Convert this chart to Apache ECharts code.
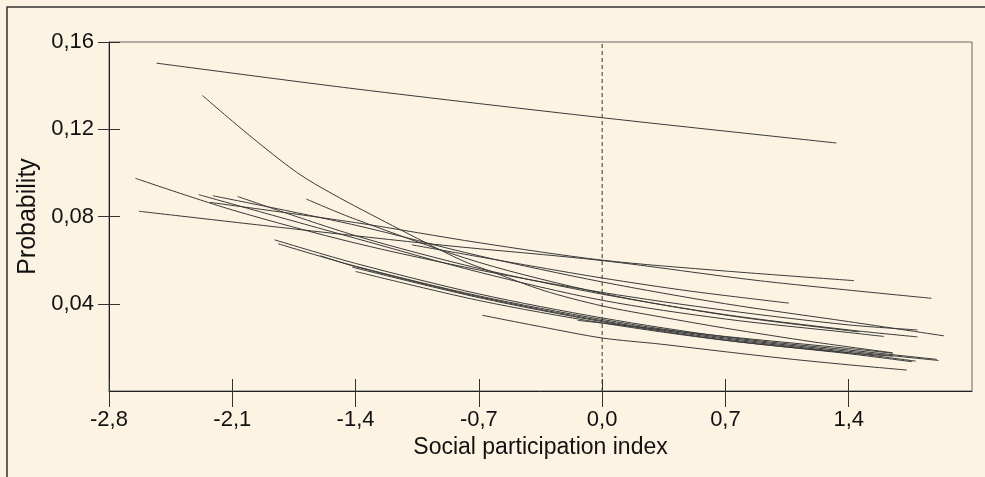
<!DOCTYPE html>
<html><head><meta charset="utf-8">
<script src="https://cdn.jsdelivr.net/npm/echarts@6/dist/echarts.min.js"></script>
<style>html,body{margin:0;padding:0;background:#fcf3e3}#c{width:985px;height:477px}</style>
</head><body><div id="c"></div>
<script>
// axis ticks
const xTicks = [-2.8, -2.1, -1.4, -0.7, 0, 0.7, 1.4];
const yTicks = [0.04, 0.08, 0.12, 0.16];
const xTitle = 'Social participation index';
const yTitle = 'Probability';
const refLine = [[0, 0], [0, 0.16]];

// curves: [social participation index, probability]
const curveTop   = [[-2.53,0.1503],[-1.4,0.1385],[0,0.1253],[1.33,0.1137]];
const curveSteep = [[-2.27,0.1355],[-2.0,0.117],[-1.73,0.100],[-1.53,0.0903],[-1.19,0.0758],[-0.8,0.060],[-0.62,0.0545],[-0.33,0.046],[0,0.0390],[0.33,0.0340],[0.7,0.0288],[1.2,0.0225],[1.65,0.0175]];
const curveB     = [[-2.63,0.0824],[-1.75,0.0743],[-0.9,0.0668],[0,0.0598],[0.9,0.0505],[1.87,0.0425]];
const curveS4    = [[-2.23,0.0865],[-1.4,0.0772],[-0.7,0.0680],[0,0.0600],[0.7,0.0550],[1.43,0.0506]];
const curveS11   = [[-1.08,0.0670],[-0.5,0.0587],[0,0.0518],[0.5,0.0458],[1.06,0.0403]];
const curveS5    = [[-2.21,0.0895],[-1.4,0.0760],[-0.7,0.0620],[0,0.0500],[0.7,0.0400],[1.4,0.0318],[1.94,0.0253]];
const curveA     = [[-2.65,0.0975],[-2.1,0.0830],[-1.4,0.0678],[-0.7,0.0555],[0,0.0452],[0.7,0.0370],[1.4,0.0303],[1.79,0.0280]];
const curveS6    = [[-2.07,0.0892],[-1.4,0.0712],[-0.7,0.0562],[0,0.0444],[0.7,0.0350],[1.4,0.0280],[1.79,0.0248]];
const curveS7    = [[-1.68,0.0880],[-1.4,0.0787],[-0.7,0.0590],[0,0.0448],[0.7,0.0348],[1.46,0.0271]];
const curveS3    = [[-2.29,0.0900],[-1.4,0.0700],[-0.7,0.0545],[0,0.0416],[0.7,0.0330],[1.4,0.0268],[1.6,0.0250]];
const curveLw1   = [[-1.86,0.0693],[-1.4,0.0585],[-0.7,0.0445],[0,0.0335],[0.7,0.0248],[1.4,0.0188],[1.90,0.0145]];
const curveLw2   = [[-1.84,0.0675],[-1.4,0.0572],[-0.7,0.0436],[0,0.0328],[0.7,0.0243],[1.4,0.0182],[1.91,0.0140]];
const curveLw3   = [[-1.60,0.0620],[-1.4,0.0570],[-0.7,0.0432],[0,0.0322],[0.7,0.0238],[1.4,0.0176],[1.78,0.0137]];
const curveLw4   = [[-1.42,0.0568],[-0.7,0.0428],[0,0.0318],[0.7,0.0233],[1.4,0.0171],[1.76,0.0134]];
const curveLw5   = [[-1.40,0.0548],[-0.7,0.0415],[0,0.0312],[0.7,0.0232],[1.4,0.0175],[1.65,0.0160]];
const curveLw6   = [[-0.14,0.0324],[0.7,0.0250],[1.4,0.0195],[1.65,0.0173]];
const curveLow   = [[-0.68,0.0347],[-0.35,0.0295],[0,0.0243],[0.33,0.0215],[0.7,0.0180],[1.05,0.0148],[1.4,0.0120],[1.73,0.0096]];

const curves = [curveTop, curveSteep, curveB, curveS4, curveS11, curveS5, curveA, curveS6, curveS7, curveS3,
                curveLw1, curveLw2, curveLw3, curveLw4, curveLw5, curveLw6, curveLow];

const FONT = '"Liberation Sans", Arial, sans-serif';
const chart = echarts.init(document.getElementById('c'), null, {renderer: 'canvas'});

const fmtX = v => { const s = (Math.round(v * 10) / 10).toFixed(1).replace('.', ','); return s === '-0,0' ? '0,0' : s; };
const fmtY = v => (Math.round(v * 100) / 100).toFixed(2).replace('.', ',');

const series = curves.map(c => ({
  type: 'line', data: c, showSymbol: false, smooth: 0.3,
  silent: true, lineStyle: {color: '#3a3a3a', width: 1}, z: 3
}));
series.push({
  type: 'line', data: refLine, showSymbol: false, silent: true, z: 2,
  lineStyle: {color: '#333', type: [4, 3], width: 1}
});

chart.setOption({
  backgroundColor: '#fcf3e3',
  animation: false,
  graphic: [{
    type: 'rect', z: -1,
    shape: {x: 7, y: 7, width: 1200, height: 700},
    style: {fill: 'none', stroke: '#333', lineWidth: 1.5}
  }],
  grid: {left: 109, top: 42, right: 13, bottom: 86, show: true, borderColor: '#666', borderWidth: 1, backgroundColor: 'transparent'},
  xAxis: [{
    type: 'value', min: -2.8, max: 2.1, interval: 0.7, position: 'bottom',
    name: xTitle, nameLocation: 'middle', nameGap: 44,
    nameTextStyle: {fontFamily: FONT, fontSize: 23, color: '#111'},
    axisLine: {show: true, onZero: false, lineStyle: {color: '#222', width: 1}},
    axisTick: {show: true, inside: false, length: 16, lineStyle: {color: '#333'}, customValues: xTicks},
    axisLabel: {show: true, margin: 18, fontFamily: FONT, fontSize: 22, color: '#111', formatter: fmtX, customValues: xTicks},
    splitLine: {show: false}
  }, {
    type: 'value', min: -2.8, max: 2.1, interval: 0.7, position: 'bottom',
    axisLine: {show: false, onZero: false},
    axisTick: {show: true, inside: true, length: 12, lineStyle: {color: '#333'}, customValues: xTicks},
    axisLabel: {show: false},
    splitLine: {show: false}
  }],
  yAxis: [{
    type: 'value', min: 0, max: 0.16, interval: 0.04, position: 'left',
    name: yTitle, nameLocation: 'middle', nameGap: 62, nameRotate: 90,
    nameTextStyle: {fontFamily: FONT, fontSize: 25, color: '#111'},
    axisLine: {show: true, onZero: false, lineStyle: {color: '#222', width: 1}},
    axisTick: {show: true, inside: false, length: 11, lineStyle: {color: '#333'}, customValues: yTicks},
    axisLabel: {show: true, margin: 15, fontFamily: FONT, fontSize: 22, color: '#111', formatter: fmtY, customValues: yTicks},
    splitLine: {show: false}
  }, {
    type: 'value', min: 0, max: 0.16, interval: 0.04, position: 'left',
    axisLine: {show: false, onZero: false},
    axisTick: {show: true, inside: true, length: 11, lineStyle: {color: '#333'}, customValues: yTicks},
    axisLabel: {show: false},
    splitLine: {show: false}
  }],
  series: series
});
</script>
</body></html>
